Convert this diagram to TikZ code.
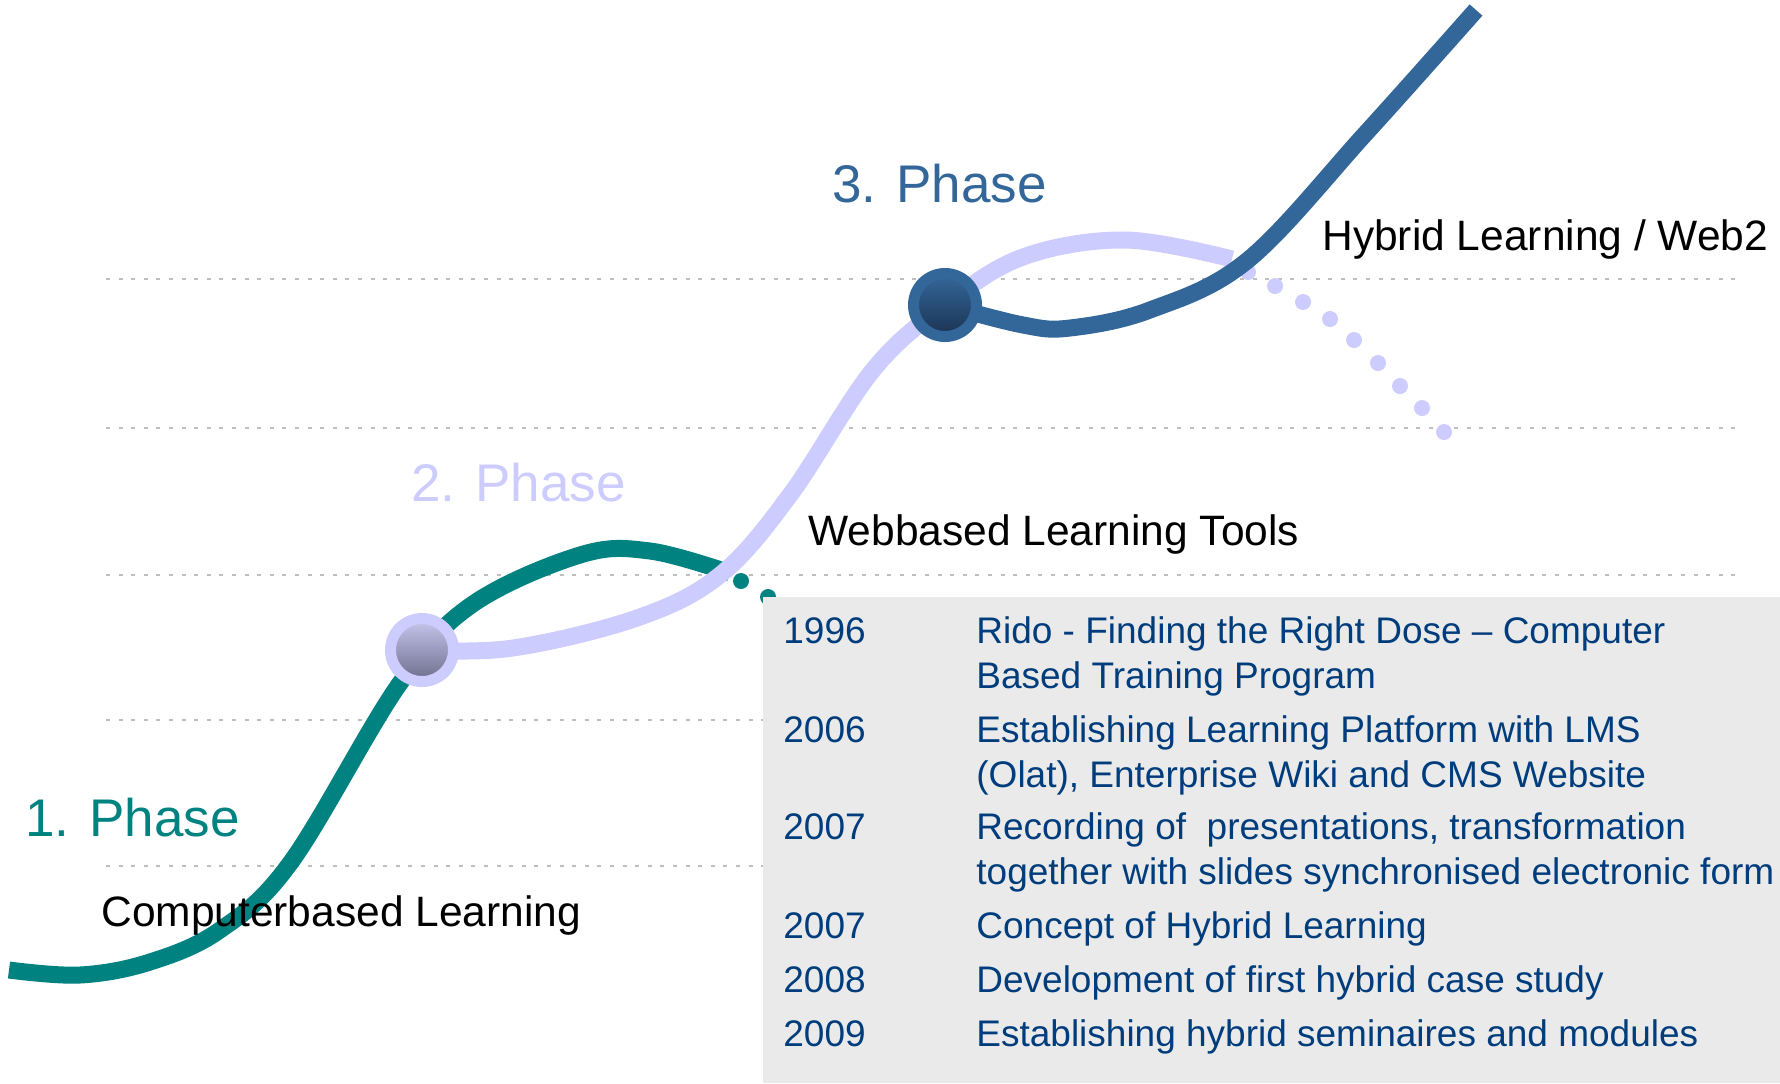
\documentclass[tikz,border=0pt]{standalone}
\usepackage{fontspec}
\setmainfont{Liberation Sans}
\definecolor{phaseteal}{RGB}{0,130,128}
\definecolor{phaselav}{RGB}{204,204,255}
\definecolor{phaseblue}{RGB}{51,102,153}
\definecolor{tabletext}{RGB}{0,61,125}
\definecolor{boxgray}{RGB}{234,234,234}
\definecolor{gridgray}{RGB}{190,190,190}
\tikzset{
    gridline/.style={gridgray, line width=1pt, dash pattern=on 2pt off 4.3pt},
    phaseline/.style={line width=8.5pt, line cap=butt, line join=round},
    phasedot/.style={circle, inner sep=0pt, minimum size=31.5pt, line width=5.5pt, shading angle=-45},
    phaselabel/.style={anchor=base west, inner sep=0pt, font=\fontsize{26.5}{30}\selectfont},
    steplabel/.style={anchor=base west, inner sep=0pt, font=\fontsize{21.25}{25}\selectfont},
    yeartext/.style={anchor=base west, inner sep=0pt, text=tabletext, font=\fontsize{18.5}{22}\selectfont},
    itemtext/.style={yeartext}
}
\newcommand{\milestone}[4] {
	\node[yeartext] (y#1) at (783,#2) {#3};
	\node[itemtext] (d#1) at (976,#2) {#4};
}
\newcommand{\milestoneTwoLines}[5] {
	\milestone{#1}{#2}{#3}{#4}
	\node[itemtext] (d#1b) at (976,#2+45) {#5};
}
\begin{document}
\begin{tikzpicture}[x=0.5pt, y=-0.5pt]
		\useasboundingbox (0,0) rectangle (1780,1083);
		\clip (0,0) rectangle (1780,1083);

		% Guide lines
		\foreach \gy in {279,428,575,720,866}
			\draw[gridline] (106,\gy) -- (1743,\gy);

		\coordinate (c2) at (422,650);
		\coordinate (c3) at (945,305);

		% 1. Phase
		\draw[phaseline, phaseteal] plot[smooth, tension=0.6] coordinates {(9,970) (80,975) (150,962) (220,930) (291,862) (398,686) (470,606) (580,555) (650,551) (730,573)};
		\foreach \dx/\dy in {741/581, 768/597}
			\fill[phaseteal] (\dx,\dy) circle[radius=4pt];

		% Milestone box
		\fill[boxgray] (763,597) rectangle (1780,1083);

		% 2. Phase
		\draw[phaseline, phaselav] plot[smooth, tension=0.6] coordinates {(c2) (513,648) (637,618) (720,575) (790,495) (873,370) (c3) (1023,257) (1125,240) (1232,259)};
		\foreach \dx/\dy in {1248/272, 1275/286, 1303/302, 1330/319, 1354/340, 1378/363, 1400/386, 1422/408, 1444/432}
			\fill[phaselav] (\dx,\dy) circle[radius=4pt];

		% 3. Phase
		\draw[phaseline, phaseblue] plot[smooth, tension=0.6] coordinates {(c3) (1023,325) (1070,328) (1150,310) (1248,260) (1366,133) (1476,10)};

		% Phase dots
		\node[phasedot, draw=phaselav, top color={rgb,255:red,200;green,200;blue,240}, bottom color={rgb,255:red,108;green,108;blue,138}] (ph2dot) at (c2) {};
		\node[phasedot, draw=phaseblue, top color={rgb,255:red,53;green,104;blue,154}, bottom color={rgb,255:red,26;green,50;blue,82}] (ph3dot) at (c3) {};

		% Labels
		\node[phaselabel, text=phaseteal] (ph1lbl) at (25,836) {1. Phase};
		\node[phaselabel, text=phaselav] (ph2lbl) at (411,501) {2. Phase};
		\node[phaselabel, text=phaseblue] (ph3lbl) at (832,202) {3. Phase};
		\node[steplabel] (cblbl) at (101,926) {Computerbased Learning};
		\node[steplabel] (wblbl) at (808,545) {Webbased Learning Tools};
		\node[steplabel] (hblbl) at (1322,250) {Hybrid Learning / Web2};

		% Milestones
		\milestoneTwoLines{a}{643}{1996}{Rido - Finding the Right Dose – Computer}{Based Training Program}
		\milestoneTwoLines{b}{742}{2006}{Establishing Learning Platform with LMS}{(Olat), Enterprise Wiki and CMS Website}
		\milestoneTwoLines{c}{839}{2007}{Recording of \ presentations, transformation}{together with slides synchronised electronic form}
		\milestone{d}{938}{2007}{Concept of Hybrid Learning}
		\milestone{e}{992}{2008}{Development of first hybrid case study}
		\milestone{f}{1046}{2009}{Establishing hybrid seminaires and modules}
	\end{tikzpicture}
\end{document}
